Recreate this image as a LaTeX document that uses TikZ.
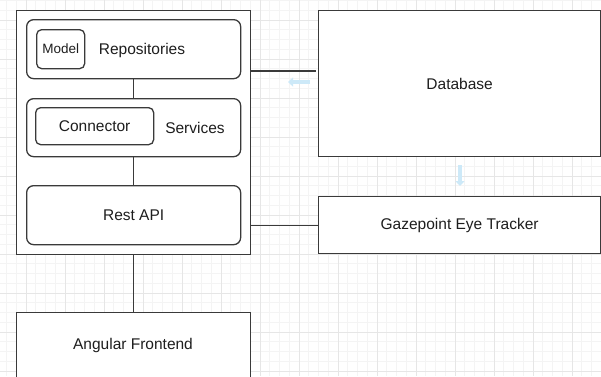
\documentclass[tikz,border=0pt]{standalone}
\usepackage{fontspec}
\setmainfont{Liberation Sans}
\usepackage{xcolor}
\usetikzlibrary{arrows.meta,positioning}
\definecolor{edge}{HTML}{3A3A3A}
\definecolor{ink}{HTML}{1E1E1E}
\definecolor{gridminor}{HTML}{F4F4F4}
\definecolor{gridmajor}{HTML}{E6E6E6}
\definecolor{hint}{HTML}{CDE9F8}
\tikzset{
  box/.style={draw=edge, line width=1.3pt, fill=white, anchor=north west, inner sep=0pt, text=ink, font=\fontsize{15.5}{17}\selectfont},
  rbox/.style={box, rounded corners=7pt},
  lbl/.style={text=ink, font=\fontsize{15.5}{17}\selectfont},
  lnk/.style={draw=edge, line width=1.3pt},
  hnt/.style={-{Triangle[length=5pt,width=9pt]}, draw=hint, line width=4pt},
}
\begin{document}
\begin{tikzpicture}[x=1pt,y=-1pt]
\useasboundingbox (0,0) rectangle (601,376);
\clip (0,0) rectangle (601,376);
% grid
\fill[white] (0,0) rectangle (601,376);
\foreach \i in {0,...,62} {
  \draw[gridminor, line width=0.6pt] ({6.5+9.75*\i},0) -- ++(0,376);
}
\foreach \i in {0,...,39} {
  \draw[gridminor, line width=0.6pt] (0,{0.5+9.75*\i}) -- ++(601,0);
}
\foreach \i in {0,...,15} {
  \draw[gridmajor, line width=0.8pt] ({26+39*\i},0) -- ++(0,376);
}
\foreach \i in {0,...,9} {
  \draw[gridmajor, line width=0.8pt] (0,{20+39*\i}) -- ++(601,0);
}
% backend
\node[box, minimum width=234pt, minimum height=244pt] (be) at (16,10) {};
\node[rbox, minimum width=214pt, minimum height=59pt] (repo) at (26,19) {};
\node[lbl] at (142,50) {Repositories};
\node[rbox, rounded corners=5pt, minimum width=48pt, minimum height=39pt, font=\fontsize{13.5}{15}\selectfont] (model) at (36,29) {Model};
\node[rbox, minimum width=214pt, minimum height=58pt] (serv) at (26,98) {};
\node[lbl] at (195,128) {Services};
\node[rbox, rounded corners=5pt, minimum width=118pt, minimum height=37pt] (conn) at (35,107) {Connector};
\node[rbox, minimum width=214pt, minimum height=59pt] (rest) at (26,185) {Rest API};
\draw[lnk] (repo.south) -- (serv.north);
\draw[lnk] (serv.south) -- (rest.north);
% right side
\node[box, minimum width=282pt, minimum height=146pt] (db) at (318,10) {Database};
\node[box, minimum width=282pt, minimum height=57pt] (gaze) at (318,196) {Gazepoint Eye Tracker};
\node[box, minimum width=234pt, minimum height=80pt] (ng) at (16,312) {};
\node[lbl] at (133,345) {Angular Frontend};
\coordinate (dbin) at (316,71);
\draw[lnk] (be.east |- dbin) -- (dbin);
\draw[lnk] (be.east |- gaze.west) -- (gaze.west);
\draw[lnk] (be.south) -- (ng.north);
% hover hints
\draw[hnt] (310,82) -- (288,82);
\draw[hnt] (460,165) -- (460,186);
\end{tikzpicture}
\end{document}
